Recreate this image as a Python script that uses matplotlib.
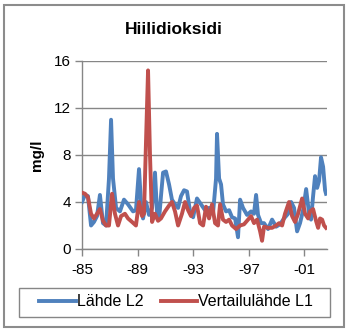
import matplotlib
matplotlib.use("Agg")
import matplotlib.pyplot as plt
from matplotlib.patches import Rectangle

plt.rcParams['font.family'] = ['Liberation Sans', 'DejaVu Sans']

# ---------------------------------------------------------
# Data (years, mg/l)
# ---------------------------------------------------------

blue_years = [1985.00, 1985.22, 1985.43, 1985.65, 1985.86, 1986.08, 1986.29, 1986.51,
              1986.73, 1986.94, 1987.09, 1987.23, 1987.45, 1987.73, 1988.02, 1988.31,
              1988.67, 1988.88, 1989.10, 1989.24, 1989.39, 1989.60, 1989.82, 1990.04,
              1990.25, 1990.40, 1990.54, 1990.68, 1990.83, 1991.04, 1991.26, 1991.47,
              1991.69, 1991.91, 1992.12, 1992.34, 1992.55, 1992.77, 1992.99, 1993.27,
              1993.56, 1993.85, 1994.14, 1994.42, 1994.64, 1994.71, 1994.86, 1995.00,
              1995.14, 1995.36, 1995.58, 1995.79, 1996.01, 1996.22, 1996.37, 1996.58,
              1996.87, 1997.16, 1997.37, 1997.52, 1997.66, 1997.88, 1998.09, 1998.38,
              1998.67, 1998.96, 1999.24, 1999.53, 1999.82, 2000.04, 2000.25, 2000.47,
              2000.68, 2000.90, 2001.12, 2001.33, 2001.47, 2001.62, 2001.76, 2001.91,
              2002.05, 2002.19, 2002.34, 2002.48, 2002.55]
blue_vals = [4.0, 4.6, 4.5, 2.0, 2.3, 2.8, 4.6, 2.2,
             2.0, 6.0, 11.0, 6.0, 3.5, 3.2, 4.2, 3.8,
             3.2, 3.3, 6.8, 4.0, 2.6, 4.0, 2.9, 3.5,
             6.5, 3.0, 2.5, 4.5, 6.5, 6.6, 5.5, 4.2,
             3.8, 3.5, 4.5, 5.0, 4.9, 3.2, 2.7, 4.3,
             3.8, 3.3, 3.5, 3.0, 6.0, 9.8, 6.0, 5.5,
             3.8, 3.2, 3.3, 2.7, 2.6, 1.0, 4.2, 3.5,
             2.9, 3.2, 3.0, 4.6, 2.9, 2.2, 2.2, 1.7,
             2.5, 1.9, 2.1, 2.6, 3.0, 4.0, 3.5, 1.5,
             2.2, 3.3, 5.1, 3.0, 2.5, 4.5, 6.2, 5.2,
             5.8, 7.8, 7.0, 5.0, 4.7]

red_years = [1985.00, 1985.22, 1985.43, 1985.65, 1985.86, 1986.08, 1986.29, 1986.51,
             1986.73, 1986.94, 1987.16, 1987.37, 1987.59, 1987.81, 1988.09, 1988.31,
             1988.60, 1988.88, 1989.10, 1989.32, 1989.46, 1989.60, 1989.75, 1989.89,
             1990.04, 1990.25, 1990.47, 1990.68, 1990.97, 1991.26, 1991.47, 1991.69,
             1991.91, 1992.19, 1992.41, 1992.63, 1992.84, 1993.06, 1993.27, 1993.49,
             1993.71, 1993.92, 1994.14, 1994.35, 1994.57, 1994.78, 1994.93, 1995.14,
             1995.36, 1995.58, 1995.79, 1996.08, 1996.37, 1996.65, 1996.94, 1997.16,
             1997.37, 1997.59, 1997.81, 1997.95, 1998.09, 1998.38, 1998.67, 1998.96,
             1999.17, 1999.39, 1999.60, 1999.89, 2000.11, 2000.32, 2000.54, 2000.83,
             2001.04, 2001.26, 2001.40, 2001.62, 2001.83, 2001.98, 2002.12, 2002.27,
             2002.41, 2002.55]
red_vals = [4.8, 4.7, 4.4, 3.0, 2.6, 3.0, 3.4, 2.4,
            2.0, 2.0, 4.7, 3.0, 2.0, 2.8, 3.0, 2.6,
            2.3, 2.0, 4.0, 2.8, 3.0, 9.0, 15.2, 8.0,
            2.3, 3.0, 2.4, 2.6, 3.2, 3.7, 4.0, 3.2,
            2.0, 3.0, 4.0, 3.3, 2.8, 3.5, 3.7, 2.2,
            2.0, 3.6, 2.6, 3.8, 2.2, 2.0, 3.8, 2.5,
            2.3, 2.5, 2.0, 1.7, 2.0, 2.1, 2.5, 2.8,
            2.2, 2.5, 1.5, 0.7, 1.9, 1.8, 1.8, 2.0,
            2.2, 2.0, 3.0, 4.0, 2.8, 2.3, 3.0, 4.3,
            3.0, 2.6, 3.2, 3.4, 2.4, 1.8, 2.6, 2.5,
            2.0, 1.8]

x_ticks = [1985, 1989, 1993, 1997, 2001]
x_labels = ["-85", "-89", "-93", "-97", "-01"]
y_ticks = [0, 4, 8, 12, 16]

# ---------------------------------------------------------
# Plot
# ---------------------------------------------------------

fig = plt.figure(figsize=(3.48, 3.31), dpi=100)
ax = fig.add_axes([82/348, 1-249/331, 245/348, 188/331])

grid_col = "#868686"

ax.plot(blue_years, blue_vals, color="#4F81BD", lw=2.8, label="Lähde L2",
        solid_joinstyle="round", zorder=3)
ax.plot(red_years, red_vals, color="#C0504D", lw=2.8, label="Vertailulähde L1",
        solid_joinstyle="round", zorder=4)

ax.set_xlim(1985, 2002.62)
ax.set_ylim(0, 16)
ax.set_xticks(x_ticks)
ax.set_xticklabels(x_labels)
ax.set_yticks(y_ticks)
ax.yaxis.grid(True, color=grid_col, lw=1.0)
ax.set_axisbelow(True)

for s in ["top", "right"]:
    ax.spines[s].set_visible(False)
for s in ["left", "bottom"]:
    ax.spines[s].set_color(grid_col)
    ax.spines[s].set_linewidth(1.0)

ax.tick_params(axis="both", colors=grid_col, labelcolor="black",
               labelsize=11, length=5, width=1.0)
ax.tick_params(axis="x", pad=5)
ax.tick_params(axis="y", pad=3)

fig.text(37/348, 1-155/331, "mg/l", rotation=90, ha="center", va="center",
         fontsize=11, fontweight="bold")
fig.text(174/348, 1-29/331, "Hiilidioksidi", ha="center", va="center",
         fontsize=12.5, fontweight="bold")

# legend without its own frame, frame drawn separately
fig.legend(loc="center", ncol=2, fontsize=11.5, frameon=False,
           handlelength=2.3, handletextpad=0.05, columnspacing=1.1,
           borderaxespad=0, bbox_to_anchor=(176/348, 1-302/331))
fig.patches.append(Rectangle((19/348, 1-317/331), 311/348, 29/331,
                             transform=fig.transFigure, fill=False,
                             edgecolor=grid_col, lw=1.0))

fig.patches.append(Rectangle((4/348, 4/331), 340/348, 322/331,
                             transform=fig.transFigure, fill=False,
                             edgecolor="#8C8C8C", lw=1.5))

fig.savefig("out.png", dpi=100)
